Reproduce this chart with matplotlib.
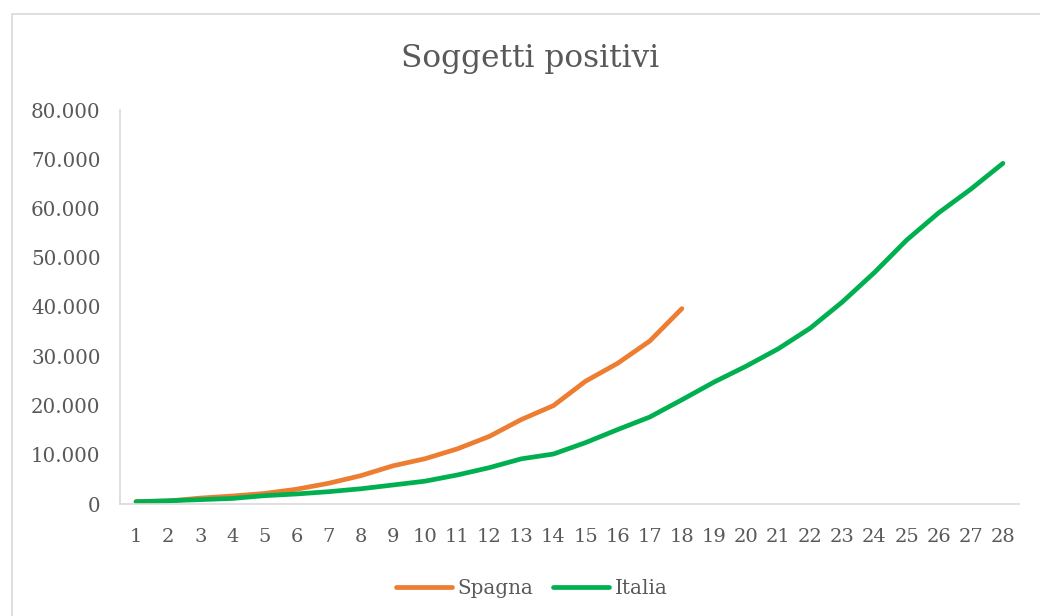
import matplotlib
matplotlib.use("Agg")
import matplotlib.pyplot as plt
from matplotlib.patches import Rectangle
from matplotlib.ticker import FuncFormatter, MultipleLocator

days = list(range(1, 29))
spagna_days = list(range(1, 19))
spagna = [500, 600, 1200, 1620, 2140, 3000, 4210, 5750, 7750, 9190,
          11180, 13720, 17150, 19980, 24930, 28570, 33090, 39670]
italia = [453, 655, 888, 1128, 1694, 2036, 2502, 3089, 3858, 4636,
          5883, 7375, 9172, 10149, 12462, 15113, 17660, 21157, 24747, 27980,
          31506, 35713, 41035, 47021, 53578, 59138, 63927, 69176]
title = "Soggetti positivi"
labels = ["Spagna", "Italia"]

plt.rcParams['font.family'] = ['DejaVu Serif']
W, H = 1040, 616
fig = plt.figure(figsize=(W / 100, H / 100), dpi=100)
fig.patch.set_facecolor("white")

# chart frame
fig.patches.append(Rectangle((12 / W, -0.1), 1.2, (H - 14) / H + 0.1,
                             transform=fig.transFigure, fill=False,
                             edgecolor="#d9d9d9", linewidth=1.2))

ax = fig.add_axes([120 / W, 1 - 504 / H, (1019 - 120) / W, (504 - 110) / H])
ax.plot(spagna_days, spagna, color="#ED7D31", linewidth=3.4,
        solid_capstyle="round", label=labels[0])
ax.plot(days, italia, color="#00B050", linewidth=3.4,
        solid_capstyle="round", label=labels[1])

ax.set_xlim(0.5, 28.5)
ax.set_ylim(0, 80000)
ax.yaxis.set_major_locator(MultipleLocator(10000))
ax.yaxis.set_major_formatter(FuncFormatter(
    lambda v, p: "0" if v == 0 else f"{int(v):,}".replace(",", ".")))
ax.set_xticks(days)
ax.set_xticklabels([str(d) for d in days])

for s in ["top", "right"]:
    ax.spines[s].set_visible(False)
ax.spines["left"].set_color("#d9d9d9")
ax.spines["bottom"].set_color("#d9d9d9")
ax.spines["left"].set_linewidth(1.2)
ax.spines["bottom"].set_linewidth(1.2)
ax.tick_params(axis="y", length=0, labelcolor="#595959", labelsize=14.3, pad=14)
ax.tick_params(axis="x", length=0, labelcolor="#595959", labelsize=14, pad=17)

fig.text(530 / W, 1 - 58 / H, title, ha="center", va="center",
         fontsize=22.5, color="#595959")

fig.legend(loc="center", bbox_to_anchor=(532 / W, 1 - 588 / H), ncol=2,
           frameon=False, fontsize=14.3, labelcolor="#595959",
           handlelength=2.8, columnspacing=1.0, handletextpad=0.3)

fig.savefig("out.png", dpi=100, facecolor="white")
